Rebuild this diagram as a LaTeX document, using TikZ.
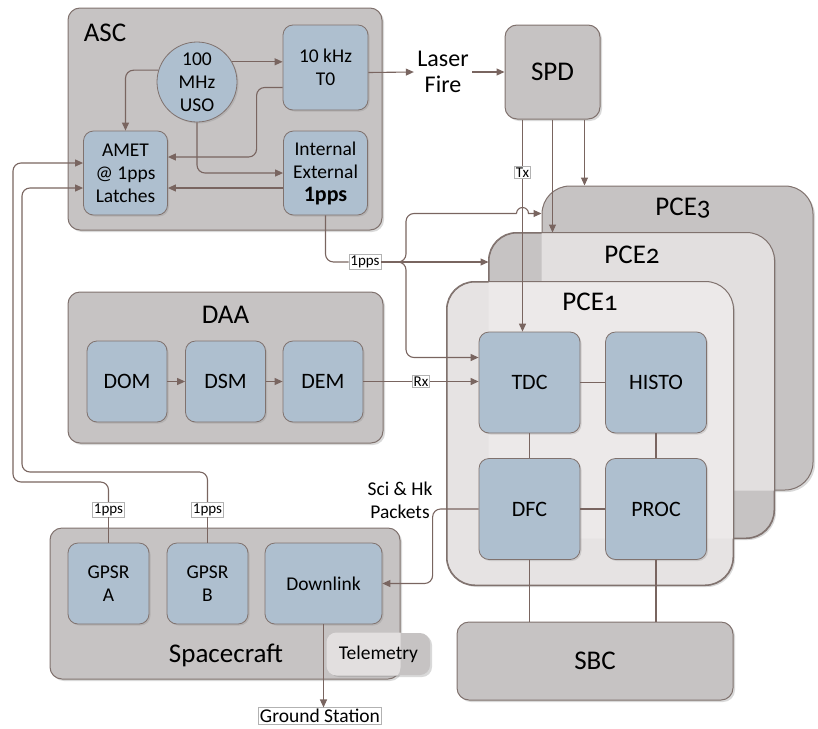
\documentclass[tikz,border=0pt]{standalone}
\usepackage{fontspec}
\setmainfont{Carlito}
\newfontfamily\oldnums[Numbers=OldStyle]{Carlito}
\usepackage{tikz}
\usetikzlibrary{arrows.meta}
\usetikzlibrary{calc}
\usetikzlibrary{positioning,shadows}
\definecolor{linecol}{RGB}{121,101,96}
\definecolor{groupfill}{RGB}{198,195,195}
\definecolor{groupedge}{RGB}{128,114,110}
\definecolor{unitfill}{RGB}{174,191,207}
\definecolor{pcebase}{RGB}{230,227,227}
\definecolor{pcetop}{RGB}{236,233,233}
\definecolor{pcemid}{RGB}{226,223,223}
\newcommand{\bigfont}{\fontsize{27}{29}\selectfont}
\newcommand{\unitfont}{\fontsize{22}{24}\selectfont}
\newcommand{\smallfont}{\fontsize{19.5}{23}\selectfont}
\newcommand{\tagfont}{\fontsize{15}{16}\selectfont}
\tikzset{
    group box/.style={
        draw=groupedge,
        fill=groupfill,
        line width=1pt,
        rounded corners=12,
        drop shadow={shadow xshift=2pt, shadow yshift=-2pt, opacity=0.3}
    },
    pce box/.style={
        group box,
        rounded corners=28
    },
    unit box/.style={
        draw=groupedge,
        fill=unitfill,
        line width=0.8pt,
        rounded corners=10,
        align=center,
        font=\unitfont,
        drop shadow={shadow xshift=1.5pt, shadow yshift=-1.5pt, opacity=0.25}
    },
    tag/.style={
        draw=black!30,
        fill=white,
        sharp corners,
        font=\tagfont,
        inner sep=1.5pt
    },
    big label/.style={font=\bigfont},
    link/.style={
        draw=linecol,
        line width=1.1pt,
        rounded corners=8,
        -{Triangle[length=8pt,width=7pt]}
    },
    wire/.style={draw=linecol, line width=1.1pt, rounded corners=8}
}

\begin{document}
\begin{tikzpicture}[x=1pt,y=-1pt]
    \useasboundingbox (0,0) rectangle (818,728);

    \node[group box, minimum width=314, minimum height=222] (asc) at (225,119) {};
    \node[big label] (asclabel) at (105,33) {ASC};
    \node[unit box, circle, minimum size=80, inner sep=0pt, font=\smallfont] (uso) at (197,82) {100\\MHz\\USO};
    \node[unit box, minimum size=85, font=\smallfont] (t0) at (325.5,67.5) {10 kHz\\T0};
    \node[unit box, minimum size=84, font=\smallfont] (amet) at (125.5,173) {AMET\\@ 1pps\\Latches};
    \node[unit box, minimum size=84, font=\smallfont] (intext) at (325.5,173) {Internal\\External\\{\unitfont\textbf{1pps}}};

    \node[font=\fontsize{24}{26}\selectfont, align=center] (laser) at (443,72) {Laser\\Fire};
    \node[group box, minimum width=95, minimum height=94, font=\bigfont] (spd) at (552.5,72) {SPD};

    \node[pce box, minimum width=271, minimum height=304] (pce3) at (677.5,338) {};
    \node[pce box, minimum width=285, minimum height=305] (pce2) at (631.5,385.5) {};
    \begin{scope}
        \clip[rounded corners=28] (pce3.north west) rectangle (pce3.south east);
        \fill[pcemid, rounded corners=28] (pce2.north west) rectangle (pce2.south east);
    \end{scope}
    \draw[groupedge, line width=1pt, rounded corners=28] (pce2.north west) rectangle (pce2.south east);
    \node[pce box, fill=pcebase, minimum width=286, minimum height=303] (pce1) at (590,433.5) {};
    \begin{scope}
        \clip[rounded corners=28] (pce2.north west) rectangle (pce2.south east);
        \fill[pcetop, rounded corners=28] (pce1.north west) rectangle (pce1.south east);
    \end{scope}
    \draw[groupedge, line width=1pt, rounded corners=28] (pce1.north west) rectangle (pce1.south east);
    \node[big label] (pce3label) at (683,208) {\oldnums PCE3};
    \node[big label] (pce2label) at (632,255) {\oldnums PCE2};
    \node[big label] (pce1label) at (590,302) {\oldnums PCE1};

    \node[unit box, minimum size=101] (tdc) at (529.5,382.5) {TDC};
    \node[unit box, minimum size=101] (histo) at (656,382.5) {HISTO};
    \node[unit box, minimum size=101] (dfc) at (529.5,509) {DFC};
    \node[unit box, minimum size=101] (proc) at (656,509) {PROC};
    \node[group box, minimum width=276, minimum height=78, font=\bigfont] (sbc) at (595,661) {SBC};

    \node[group box, minimum width=315, minimum height=151] (daa) at (225.5,367.5) {};
    \node[big label] (daalabel) at (225.5,315) {DAA};
    \foreach \n/\x in {DOM/127,DSM/225.5,DEM/323}
        \node[unit box, minimum width=80, minimum height=81] (\n) at (\x,381.5) {\n};

    \node[group box, minimum width=350, minimum height=151] (sc) at (225,603.5) {};
    \node[big label] (sclabel) at (226,655) {Spacecraft};
    \node[unit box, minimum size=81, font=\smallfont] (gpsa) at (108.5,583.5) {GPSR\\A};
    \node[unit box, minimum size=81, font=\smallfont] (gpsb) at (207.5,583.5) {GPSR\\B};
    \node[unit box, minimum width=117, minimum height=81, font=\smallfont] (downlink) at (323.5,583.5) {Downlink};
    \node[group box, draw=none, rounded corners=10, minimum width=103, minimum height=42] (telem) at (378.5,654) {};
    \begin{scope}
        \clip[rounded corners=12] (sc.north west) rectangle (sc.south east);
        \fill[pcemid, rounded corners=10] (telem.north west) rectangle (telem.south east);
    \end{scope}
    \node[font=\smallfont] (telemtext) at (telem) {Telemetry};
    \node[tag, font=\smallfont] (gs) at (320,716) {Ground Station};

    \draw[link] (uso.30) -- (uso.30 -| t0.west);
    \draw[link] (uso.163) -| (amet.north);
    \draw[link] ([yshift=-20pt]t0.west) -- ++(-26,0) |- ([yshift=16pt]amet.east);
    \draw[link] (uso.south) |- (intext.west);
    \draw[link] ([yshift=-15pt]intext.west) -- ([yshift=-15pt]intext.west -| amet.east);
    \draw[link] ([yshift=-5pt]t0.east) -- (laser.west);
    \draw[link] (laser.east) -- (spd.west);

    \coordinate (tx) at ([xshift=-30pt]spd.south);
    \draw[link] (tx) -- (tx |- tdc.north) node[tag, pos=0.25] (txtag) {Tx};
    \draw[link] (spd.south) -- (spd.south |- pce2.north);
    \draw[link] ([xshift=32pt]spd.south) -- ([xshift=32pt]spd.south |- pce3.north);

    \node[tag] (onepps) at (365,262) {1pps};
    \coordinate (split) at (406,262);
    \coordinate (up) at ([yshift=-28pt]pce3.north west);
    \draw[wire] (intext.south) |- (onepps.west);
    \draw[link] (onepps.east) -- (onepps -| pce2.west);
    \draw[wire] (onepps.east) -- (split) |- ([xshift=-6pt]tx |- up);
    \draw[link, sharp corners] ([xshift=-6pt]tx |- up) arc[start angle=180, end angle=360, radius=6] -- (up);
    \draw[link] (onepps.east) -- (split) |- ([yshift=25pt]tdc.west);

    \foreach \a/\b in {DOM/DSM,DSM/DEM}
        \draw[link] (\a) -- (\b);
    \draw[link] (DEM) -- (DEM -| tdc.west) node[tag, pos=0.5] (rx) {Rx};

    \foreach \a/\b in {tdc/histo,tdc/dfc,histo/proc,dfc/proc}
        \draw[wire] (\a) -- (\b);
    \draw[wire] (dfc) -- (dfc |- sbc.north);
    \draw[wire] (proc) -- (proc |- sbc.north);

    \node[align=center, font=\smallfont] (packets) at (400,500) {Sci \& Hk\\Packets};
    \draw[link] (dfc.west) -- ++(-46,0) |- (downlink.east);
    \draw[link] (downlink) -- (downlink |- gs.north);

    \node[tag] (ppsa) at ([yshift=33pt]gpsa.north) {1pps};
    \node[tag] (ppsb) at ([yshift=33pt]gpsb.north) {1pps};
    \coordinate (outer) at (13,482);
    \coordinate (inner) at (22,472);
    \draw[wire] (ppsa) -- (gpsa);
    \draw[wire] (ppsb) -- (gpsb);
    \draw[link] (ppsa.north) |- (outer) |- ([yshift=10pt]amet.west);
    \draw[link] (ppsb.north) |- (inner) |- ([yshift=-15pt]amet.west);
\end{tikzpicture}
\end{document}
